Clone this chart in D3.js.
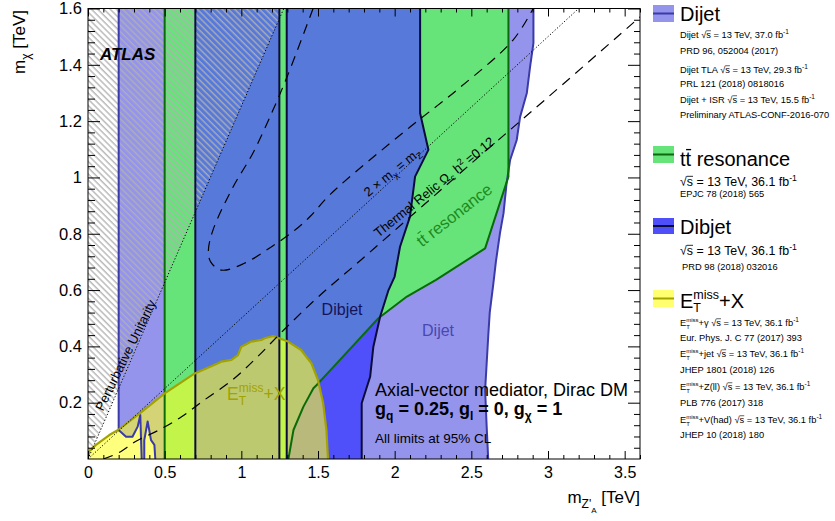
<!DOCTYPE html>
<html><head><meta charset="utf-8">
<script src="https://cdn.jsdelivr.net/npm/d3@7"></script>
<style>body{margin:0;background:#fff}svg{display:block;font-family:"Liberation Sans",Arial,Helvetica,sans-serif}svg text{white-space:pre}</style>
</head><body><svg id="c" width="835" height="521"></svg>
<script>
// ---------- data (TeV) ----------
const xDomain = [0, 3.6];
const yDomain = [0, 1.6];
const xMajor = [0, 0.5, 1, 1.5, 2, 2.5, 3, 3.5];
const xLabels = ["0", "0.5", "1", "1.5", "2", "2.5", "3", "3.5"];
const yMajor = [0.2, 0.4, 0.6, 0.8, 1, 1.2, 1.4, 1.6];
const yLabels = ["0.2", "0.4", "0.6", "0.8", "1", "1.2", "1.4", "1.6"];

const dijetLeftEdge = [[0.2,1.6],[0.2,0.103],[0.248,0.079],[0.29,0.079],[0.324,0.115],[0.341,0.156],[0.35,0]];
const dijetTent = [[0.367,0],[0.367,0.067],[0.389,0.133],[0.411,0.067],[0.433,0.05],[0.439,0]];
const dijetRightEdge = [[2.61,0],[2.6,0.115],[2.59,0.245],[2.61,0.434],[2.62,0.52],[2.644,0.625],[2.66,0.7],[2.687,0.803],[2.71,0.873],[2.73,0.98],[2.753,1.062],[2.796,1.133],[2.818,1.215],[2.862,1.3],[2.883,1.393],[2.905,1.477],[2.905,1.6]];

const ttbarLeftEdge = [[0.5,1.6],[0.5,0]];
const ttbarLowerEdge = [[1.307,0],[1.34,0.103],[1.405,0.186],[1.47,0.251],[1.49,0.262],[1.58,0.315],[1.894,0.5],[2.08,0.577],[2.27,0.636],[2.59,0.748],[2.742,1.003],[2.742,1.6]];

const dibjetBandA = [[0.7,0],[0.7,1.6],[1.248,1.6],[1.248,0]];
const dibjetLeftB = [[1.296,0],[1.296,1.6]];
const dibjetRightB = [[2.166,1.6],[2.166,1.228],[2.22,1.098],[2.133,1.003],[2.1,0.861],[2.035,0.754],[2.0,0.648],[1.96,0.6],[1.905,0.505],[1.861,0.399],[1.84,0.292],[1.785,0.198],[1.785,0]];

const metBoundary = [[0,0],[0,0.005],[0.01,0.03],[0.052,0.05],[0.139,0.085],[0.196,0.103],[0.34,0.163],[0.5,0.233],[0.696,0.304],[0.848,0.34],[0.87,0.346],[0.935,0.352],[0.978,0.369],[1.0,0.399],[1.065,0.417],[1.13,0.423],[1.152,0.429],[1.207,0.437],[1.305,0.417],[1.39,0.387],[1.457,0.34],[1.5,0.28],[1.533,0.2],[1.555,0.103],[1.565,0]];

const unitarityLine = [[0,0],[1.277,1.6]];
const kinematicLine = [[0,0],[3.2,1.6]];
const relicLower = [[0.1,0],[0.2,0.022],[0.31,0.062],[0.47,0.105],[0.61,0.15],[0.76,0.21],[0.94,0.28],[1.1,0.36],[1.28,0.46],[1.5,0.575],[1.78,0.707],[2.5,1.05],[3.0,1.285],[3.6,1.57]];
const relicUpper = [[1.468,1.6],[1.298,1.357],[1.207,1.24],[1.076,1.087],[0.946,0.966],[0.815,0.813],[0.785,0.74],[0.8,0.7],[0.87,0.671],[1.02,0.695],[1.2,0.755],[1.35,0.813],[1.45,0.862],[1.58,0.94],[2.1,1.179],[2.407,1.311],[2.772,1.488],[2.903,1.6]];

// ---------- setup ----------
const svg = d3.select("#c");
const x = d3.scaleLinear().domain(xDomain).range([88, 640]);
const y = d3.scaleLinear().domain(yDomain).range([459, 8.5]);
const line = d3.line().x(d => x(d[0])).y(d => y(d[1]));
const curve = d3.line().x(d => x(d[0])).y(d => y(d[1])).curve(d3.curveCatmullRom.alpha(0.5));

const defs = svg.append("defs");
defs.append("clipPath").attr("id","plotclip").append("rect")
  .attr("x", x(0)).attr("y", y(1.6)).attr("width", x(3.6)-x(0)).attr("height", y(0)-y(1.6));
const pat = defs.append("pattern").attr("id","hatch").attr("patternUnits","userSpaceOnUse")
  .attr("width",4.4).attr("height",4.4).attr("patternTransform","rotate(-45)");
pat.append("line").attr("x1",1).attr("x2",1).attr("y1",0).attr("y2",4.4)
  .attr("stroke","#b0b0b0").attr("stroke-width",1.3);

const dibjetPolyB = dibjetLeftB.concat(dibjetRightB);
defs.append("clipPath").attr("id","dibclip").call(cp => {
  cp.append("path").attr("d", line(dibjetBandA) + "Z");
  cp.append("path").attr("d", line(dibjetPolyB) + "Z");
});

const plot = svg.append("g").attr("clip-path","url(#plotclip)");

// fills
const dijetPoly = dijetLeftEdge.concat(dijetTent, dijetRightEdge);
plot.append("path").attr("d", line(dijetPoly)+"Z").attr("fill","#9494ec");
const ttbarPoly = ttbarLeftEdge.concat(ttbarLowerEdge);
plot.append("path").attr("d", line(ttbarPoly)+"Z").attr("fill","#66e47a");
plot.append("path").attr("d", line(dibjetBandA)+"Z").attr("fill","#5050fa");
plot.append("path").attr("d", line(dibjetPolyB)+"Z").attr("fill","#5050fa");
plot.append("path").attr("d", line(ttbarPoly)+"Z").attr("fill","#5779d9").attr("clip-path","url(#dibclip)");
// hatch (perturbative unitarity)
plot.append("path").attr("d", line(unitarityLine.concat([[0,1.6]]))+"Z").attr("fill","url(#hatch)");
// MET+X
plot.append("path").attr("d", line(metBoundary)+"Z").attr("fill","#ffff28").attr("fill-opacity",0.6);

// outlines
const outl = (pts, col, w) => plot.append("path").attr("d", line(pts)).attr("fill","none")
  .attr("stroke", col).attr("stroke-width", w).attr("stroke-linejoin","round");
outl(dijetLeftEdge, "#3a3aa8", 2);
outl(dijetTent, "#3a3aa8", 2);
outl(dijetRightEdge, "#3a3aa8", 2);
outl(ttbarLeftEdge, "#0b6b0b", 2);
outl(ttbarLowerEdge, "#0b6b0b", 2);
outl([dibjetBandA[0], dibjetBandA[1]], "#0c0c3c", 2);
outl([dibjetBandA[2], dibjetBandA[3]], "#0c0c3c", 2);
outl(dibjetLeftB, "#0c0c3c", 2);
outl(dibjetRightB, "#0c0c3c", 2);
outl(metBoundary, "#a3a300", 2.2);

// reference lines
plot.append("path").attr("d", line(unitarityLine)).attr("fill","none").attr("stroke","#000")
  .attr("stroke-width",1).attr("stroke-dasharray","1.2,2");
plot.append("path").attr("d", line(kinematicLine)).attr("fill","none").attr("stroke","#000")
  .attr("stroke-width",1).attr("stroke-dasharray","1.2,2");
plot.append("path").attr("d", curve(relicLower)).attr("fill","none").attr("stroke","#000")
  .attr("stroke-width",1.2).attr("stroke-dasharray","10,7");
plot.append("path").attr("d", curve(relicUpper)).attr("fill","none").attr("stroke","#000")
  .attr("stroke-width",1.2).attr("stroke-dasharray","10,7");

// ---------- rich text helper ----------
function rich(parent, parts, o) {
  const g = parent.append("g").attr("fill", o.fill || "#000");
  if (o.weight) g.attr("font-weight", o.weight);
  if (o.style) g.attr("font-style", o.style);
  let cx = 0;
  parts.forEach(p => {
    if (typeof p === "string") p = {t: p};
    if (p.stack) {
      let w = 0;
      p.stack.forEach(q => {
        const t = g.append("text").attr("x", cx).attr("y", q.dy).attr("font-size", q.s).text(q.t);
        w = Math.max(w, t.node().getComputedTextLength());
      });
      cx += w; return;
    }
    const fs = p.s || o.size;
    const t = g.append("text").attr("x", cx).attr("y", p.dy || 0).attr("font-size", fs).text(p.t);
    if (p.b) t.attr("font-weight", "bold");
    const len = t.node().getComputedTextLength();
    if (p.over) {
      const yy = (p.dy || 0) - fs * (p.overH || 0.8);
      g.append("line").attr("x1", cx + (p.ox||0)).attr("x2", cx + len).attr("y1", yy).attr("y2", yy)
        .attr("stroke", o.fill || "#000").attr("stroke-width", Math.max(0.6, fs / 15));
    }
    cx += len;
  });
  const sx = o.anchor === "middle" ? -cx / 2 : o.anchor === "end" ? -cx : 0;
  const sy = o.vcenter ? o.size * 0.35 : 0;
  g.attr("transform", `translate(${o.x},${o.y}) rotate(${o.rot || 0}) translate(${sx},${sy})`);
  return g;
}

// ---------- in-plot annotations ----------
const ann = svg.append("g");
rich(ann, ["ATLAS"], {x: x(0.078), y: y(1.417), size: 17, weight: "bold", style: "italic"});
rich(ann, ["Perturbative Unitarity"], {x: x(0.245), y: y(0.369), size: 13, anchor: "middle", vcenter: true, rot: -64});
rich(ann, ["2 × m", {t:"χ", s:9, dy:3}, " = m", {t:"Z", s:9, dy:3}],
  {x: x(1.983), y: y(1.019), size: 13, anchor: "middle", vcenter: true, rot: -39});
rich(ann, ["Thermal Relic Ω", {t:"c", s:9, dy:3}, " h", {t:"2", s:9, dy:-5}, " =0.12"],
  {x: x(2.257), y: y(0.966), size: 13, anchor: "middle", vcenter: true, rot: -39});
rich(ann, ["t", {t:"t", over:true, overH:0.82, ox:0.5}, " resonance"],
  {x: x(2.388), y: y(0.867), size: 16.5, anchor: "middle", vcenter: true, rot: -38, fill: "#1e8a1e"});
rich(ann, ["Dibjet"], {x: x(1.657), y: y(0.51), size: 16, anchor: "middle", fill: "#14145a"});
rich(ann, ["Dijet"], {x: x(2.283), y: y(0.437), size: 16, anchor: "middle", fill: "#4848b0"});
rich(ann, ["E", {stack: [{t:"miss", s:12, dy:-8}, {t:"T", s:12, dy:5}]}, "+X"],
  {x: x(0.907), y: y(0.21), size: 17.5, fill: "#a3a300"});
rich(ann, ["Axial-vector mediator, Dirac DM"], {x: x(1.872), y: y(0.225), size: 18});
rich(ann, ["g", {t:"q", s:12, dy:5}, " = 0.25, g", {t:"l", s:12, dy:5}, " = 0, g", {t:"χ", s:12, dy:5}, " = 1"],
  {x: x(1.872), y: y(0.156), size: 18, weight: "bold"});
rich(ann, ["All limits at 95% CL"], {x: x(1.872), y: y(0.057), size: 13.5});

// ---------- axes ----------
const axes = svg.append("g").attr("font-family", "Liberation Sans, Arial, sans-serif");
const xMinor = d3.range(0, 37).map(i => i / 10).filter(v => Math.abs(v * 2 - Math.round(v * 2)) > 1e-6);
const yMinor = d3.range(0, 41).map(i => i * 0.04).filter(v => Math.abs(v * 5 - Math.round(v * 5)) > 1e-6);

function styleAxis(g) { g.select(".domain").remove(); g.selectAll("line").attr("stroke","#000"); }
axes.append("g").attr("transform", `translate(0,${y(0)})`)
  .call(d3.axisBottom(x).tickValues(xMajor).tickFormat((d, i) => xLabels[i]).tickSize(-8).tickPadding(7.5))
  .call(styleAxis).call(g => g.selectAll("text").attr("font-size", 16).attr("fill", "#000"));
axes.append("g").attr("transform", `translate(0,${y(0)})`)
  .call(d3.axisBottom(x).tickValues(xMinor).tickFormat("").tickSize(-4)).call(styleAxis);
axes.append("g").attr("transform", `translate(0,${y(1.6)})`)
  .call(d3.axisTop(x).tickValues(xMajor).tickFormat("").tickSize(-8)).call(styleAxis);
axes.append("g").attr("transform", `translate(0,${y(1.6)})`)
  .call(d3.axisTop(x).tickValues(xMinor).tickFormat("").tickSize(-4)).call(styleAxis);
axes.append("g").attr("transform", `translate(${x(0)},0)`)
  .call(d3.axisLeft(y).tickValues(yMajor).tickFormat((d, i) => yLabels[i]).tickSize(-12).tickPadding(6))
  .call(styleAxis).call(g => g.selectAll("text").attr("font-size", 16.5).attr("fill", "#000"));
axes.append("g").attr("transform", `translate(${x(0)},0)`)
  .call(d3.axisLeft(y).tickValues(yMinor).tickFormat("").tickSize(-7)).call(styleAxis);
axes.append("g").attr("transform", `translate(${x(3.6)},0)`)
  .call(d3.axisRight(y).tickValues(yMajor).tickFormat("").tickSize(-12)).call(styleAxis);
axes.append("g").attr("transform", `translate(${x(3.6)},0)`)
  .call(d3.axisRight(y).tickValues(yMinor).tickFormat("").tickSize(-6)).call(styleAxis);
axes.append("rect").attr("x", x(0)).attr("y", y(1.6)).attr("width", x(3.6) - x(0)).attr("height", y(0) - y(1.6))
  .attr("fill", "none").attr("stroke", "#000").attr("stroke-width", 1);

// axis titles
rich(svg, ["m", {t:"Z'", s:12, dy:5}, {t:"A", s:8, dy:10}, " [TeV]"], {x: x(3.6), y: 503, size: 17, anchor: "end"});
rich(svg, ["m", {t:"χ", s:12, dy:5}, " [TeV]"], {x: 25, y: 10, size: 17, anchor: "end", rot: -90});

// ---------- legend ----------
const leg = svg.append("g");
const legendItems = [
  {fill:"#9494ec", line:"#3a3aa8", top:5, h:17},
  {fill:"#66e47a", line:"#0b6b0b", top:146, h:17},
  {fill:"#4f4ffa", line:"#0c0c3c", top:218, h:16},
  {fill:"#ffff70", line:"#a3a300", top:290, h:17}
];
legendItems.forEach(it => {
  leg.append("rect").attr("x", 653).attr("y", it.top).attr("width", 21).attr("height", it.h).attr("fill", it.fill);
  leg.append("line").attr("x1", 653).attr("x2", 674).attr("y1", it.top + it.h / 2).attr("y2", it.top + it.h / 2)
    .attr("stroke", it.line).attr("stroke-width", 2);
});
const fb = s => [{t:"fb", s:s}, {t:"-1", s:s*0.7, dy:-s*0.4}];
const rs = s => [{t:"√", s:s}, {t:"s", s:s, over:true, overH:0.78}];
const sm = 9.3;
rich(leg, ["Dijet"], {x: 680, y: 21, size: 20});
rich(leg, ["Dijet ", ...rs(sm), " = 13 TeV, 37.0 ", ...fb(sm)], {x: 680, y: 38, size: sm});
rich(leg, ["PRD 96, 052004 (2017)"], {x: 680, y: 54, size: sm});
rich(leg, ["Dijet TLA ", ...rs(sm), " = 13 TeV, 29.3 ", ...fb(sm)], {x: 680, y: 73, size: sm});
rich(leg, ["PRL 121 (2018) 0818016"], {x: 680, y: 87, size: sm});
rich(leg, ["Dijet + ISR ", ...rs(sm), " = 13 TeV, 15.5 ", ...fb(sm)], {x: 680, y: 103, size: sm});
rich(leg, ["Preliminary ATLAS-CONF-2016-070"], {x: 680, y: 118, size: sm});

rich(leg, ["t", {t:"t", over:true, overH:0.82, ox:0.5}, " resonance"], {x: 680, y: 166, size: 20});
rich(leg, [...rs(12.4), " = 13 TeV, 36.1 ", ...fb(12.4)], {x: 680, y: 186, size: 12.4});
rich(leg, ["EPJC 78 (2018) 565"], {x: 680, y: 197, size: sm});

rich(leg, ["Dibjet"], {x: 680, y: 234, size: 20});
rich(leg, [...rs(12.4), " = 13 TeV, 36.1 ", ...fb(12.4)], {x: 680, y: 255, size: 12.4});
rich(leg, ["PRD 98 (2018) 032016"], {x: 682, y: 270, size: sm});

rich(leg, ["E", {stack: [{t:"miss", s:12.5, dy:-9}, {t:"T", s:12.5, dy:4}]}, "+X"], {x: 680, y: 308, size: 20});
const met = s => ["E", {stack: [{t:"miss", s:6, dy:-4}, {t:"T", s:6, dy:3}]}];
rich(leg, [...met(), "+γ ", ...rs(sm), " = 13 TeV, 36.1 ", ...fb(sm)], {x: 680, y: 326, size: sm});
rich(leg, ["Eur. Phys. J. C 77 (2017) 393"], {x: 680, y: 341, size: sm});
rich(leg, [...met(), "+jet ", ...rs(sm), " = 13 TeV, 36.1 ", ...fb(sm)], {x: 680, y: 357, size: sm});
rich(leg, ["JHEP 1801 (2018) 126"], {x: 680, y: 373, size: sm});
rich(leg, [...met(), "+Z(ll) ", ...rs(sm), " = 13 TeV, 36.1 ", ...fb(sm)], {x: 680, y: 390, size: sm});
rich(leg, ["PLB 776 (2017) 318"], {x: 680, y: 406, size: sm});
rich(leg, [...met(), "+V(had) ", ...rs(sm), " = 13 TeV, 36.1 ", ...fb(sm)], {x: 680, y: 423, size: sm});
rich(leg, ["JHEP 10 (2018) 180"], {x: 680, y: 438, size: sm});
</script></body></html>
